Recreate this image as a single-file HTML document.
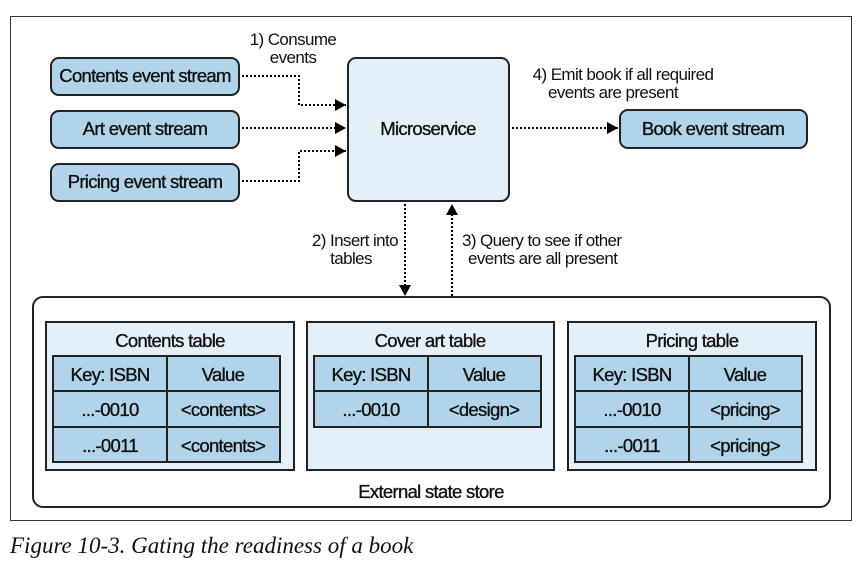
<!DOCTYPE html>
<html><head><meta charset="utf-8"><style>
body{margin:0;background:#fff;width:867px;height:568px;overflow:hidden}
svg text{font-family:"Liberation Sans Narrow","Liberation Sans",sans-serif;fill:#111}
.b{font-size:18.5px;letter-spacing:-0.7px;stroke:#111;stroke-width:0.35px}
.l{font-size:17px;letter-spacing:-0.6px}
</style></head><body>
<svg width="867" height="568" xmlns="http://www.w3.org/2000/svg">
<defs><marker id="a" markerWidth="12" markerHeight="12" refX="11" refY="6" orient="auto" markerUnits="userSpaceOnUse"><path d="M0,0 L11,6 L0,12 z" fill="#000"/></marker></defs>
<rect x="10.5" y="16.5" width="841" height="504" fill="#fff" stroke="#333" stroke-width="1"/>
<g stroke="#222" stroke-width="2" fill="#b1d4ea">
<rect x="51" y="58" width="188" height="37" rx="8"/>
<rect x="51" y="111" width="188" height="37" rx="8"/>
<rect x="51" y="164" width="188" height="37" rx="8"/>
<rect x="620" y="110" width="187" height="38" rx="8"/>
<rect x="348" y="58" width="161" height="143" rx="8" fill="#e3f0f9"/>
</g>
<g class="b" text-anchor="middle">
<text x="145" y="82">Contents event stream</text>
<text x="145" y="135">Art event stream</text>
<text x="145" y="188">Pricing event stream</text>
<text x="713" y="135">Book event stream</text>
<text x="428" y="135">Microservice</text>
</g>
<g stroke="#000" stroke-width="2" stroke-dasharray="2,2" fill="none">
<path d="M242,76 H299 V105 H346" marker-end="url(#a)"/>
<path d="M242,128 H346" marker-end="url(#a)"/>
<path d="M242,181 H299 V151 H346" marker-end="url(#a)"/>
<path d="M512,128 H618" marker-end="url(#a)"/>
<path d="M405,204 V296" marker-end="url(#a)"/>
<path d="M452,296 V204" marker-end="url(#a)"/>
</g>
<g class="l">
<text x="293" y="45" text-anchor="middle">1) Consume</text>
<text x="293" y="63" text-anchor="middle">events</text>
<text x="623" y="80" text-anchor="middle">4) Emit book if all required</text>
<text x="613" y="98" text-anchor="middle">events are present</text>
<text x="398" y="246" text-anchor="end">2) Insert into</text>
<text x="351" y="264" text-anchor="middle">tables</text>
<text x="462" y="246">3) Query to see if other</text>
<text x="468" y="264">events are all present</text>
</g>
<rect x="33" y="297" width="797" height="210" rx="10" fill="#fff" stroke="#222" stroke-width="2"/>
<g stroke="#222" stroke-width="2">
<rect x="46" y="322" width="248" height="148" fill="#e3f0f9"/>
<rect x="307" y="322" width="247" height="148" fill="#e3f0f9"/>
<rect x="568" y="322" width="248" height="148" fill="#e3f0f9"/>
<g fill="#b1d4ea">
<rect x="53" y="356" width="114" height="35"/><rect x="167" y="356" width="113" height="35"/>
<rect x="53" y="391" width="114" height="36"/><rect x="167" y="391" width="113" height="36"/>
<rect x="53" y="427" width="114" height="35"/><rect x="167" y="427" width="113" height="35"/>
<rect x="314" y="356" width="114" height="35"/><rect x="428" y="356" width="113" height="35"/>
<rect x="314" y="391" width="114" height="36"/><rect x="428" y="391" width="113" height="36"/>
<rect x="575" y="356" width="114" height="35"/><rect x="689" y="356" width="113" height="35"/>
<rect x="575" y="391" width="114" height="36"/><rect x="689" y="391" width="113" height="36"/>
<rect x="575" y="427" width="114" height="35"/><rect x="689" y="427" width="113" height="35"/>
</g></g>
<g class="b" text-anchor="middle">
<text x="170" y="347">Contents table</text>
<text x="430" y="347">Cover art table</text>
<text x="692" y="347">Pricing table</text>
<text x="110" y="381">Key: ISBN</text><text x="223" y="381">Value</text>
<text x="110" y="416">...-0010</text><text x="223" y="416">&lt;contents&gt;</text>
<text x="110" y="452">...-0011</text><text x="223" y="452">&lt;contents&gt;</text>
<text x="371" y="381">Key: ISBN</text><text x="484" y="381">Value</text>
<text x="371" y="416">...-0010</text><text x="484" y="416">&lt;design&gt;</text>
<text x="632" y="381">Key: ISBN</text><text x="745" y="381">Value</text>
<text x="632" y="416">...-0010</text><text x="745" y="416">&lt;pricing&gt;</text>
<text x="632" y="452">...-0011</text><text x="745" y="452">&lt;pricing&gt;</text>
<text x="431" y="498">External state store</text>
</g>
<text x="10" y="553" style="font-family:'Liberation Serif',serif;font-style:italic;font-size:23px">Figure 10-3. Gating the readiness of a book</text>
</svg>
</body></html>
